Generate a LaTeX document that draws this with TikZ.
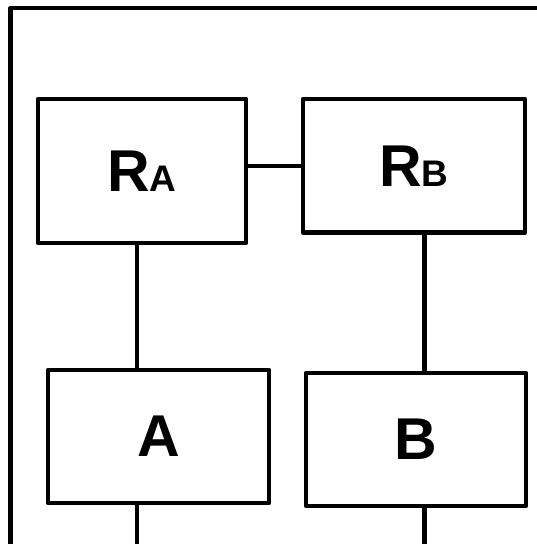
\documentclass[tikz,border=0pt]{standalone}
\usepackage{fontspec}
\setmainfont{Liberation Sans}
\begin{document}
\begin{tikzpicture}[x=1pt,y=1pt,
  line width=4.3pt, line join=round,
  blk/.style={draw, line width=4.3pt, rectangle, inner sep=0pt, outer sep=0pt,
    font=\fontsize{59}{59}\selectfont\bfseries}]
\useasboundingbox (0,0) rectangle (537,544);
\clip (0,0) rectangle (537,544);
\newcommand{\smallsub}[1]{{\fontsize{37}{37}\selectfont #1}}
% outer frame (continues beyond the picture)
\coordinate (fbl) at (10.5,-10);
\coordinate (ftl) at (10.5,536);
\coordinate (ftr) at (560,536);
\draw (fbl) -- (ftl) -- (ftr);
% boxes
\node[blk, minimum width=208pt, minimum height=144pt] (RA) at (142,373) {R\smallsub{A}};
\node[blk, minimum width=222pt, minimum height=133.5pt] (RB) at (414,378.25) {R\smallsub{B}};
\node[blk, minimum width=221pt, minimum height=133pt] (A) at (158.5,107.5) {A};
\node[blk, minimum width=220pt, minimum height=133pt] (B) at (416,104.5) {B};
% connector lines
\coordinate (la) at (137,-10);
\coordinate (lb) at (424.5,-10);
\draw (RA.east |- RB.west) -- (RB.west);
\draw (la |- RA.south) -- (la |- A.north);
\draw (la |- A.south) -- (la);
\draw (lb |- RB.south) -- (lb |- B.north);
\draw (lb |- B.south) -- (lb);
\end{tikzpicture}
\end{document}
